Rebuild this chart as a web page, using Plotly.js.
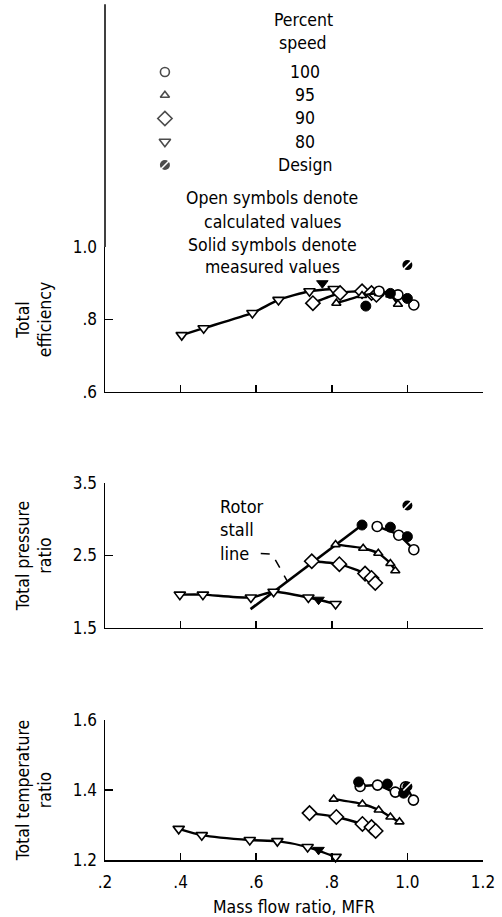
<!DOCTYPE html>
<html><head><meta charset="utf-8">
<script src="https://cdn.plot.ly/plotly-3.0.1.min.js"></script>
<style>html,body{margin:0;padding:0;background:#fff}#chart{width:502px;height:917px}</style>
</head><body><div id="chart"></div>
<script>
const FONT = 'DejaVu Sans Condensed, DejaVu Sans, sans-serif';

// ---- tick labels ----
const xTickVals = [0.2, 0.4, 0.6, 0.8, 1.0, 1.2];
const xTickText = ['.2', '.4', '.6', '.8', '1.0', '1.2'];
const effTickVals = [0.6, 0.8, 1.0];
const effTickText = ['.6', '.8', '1.0'];
const prTickVals = [1.5, 2.5, 3.5];
const prTickText = ['1.5', '2.5', '3.5'];
const tmpTickVals = [1.2, 1.4, 1.6];
const tmpTickText = ['1.2', '1.4', '1.6'];
const speedKeys = ['100', '95', '90', '80', 'Design'];

// ---- Total efficiency ----
const eff80X = [0.403, 0.461, 0.590, 0.659, 0.741, 0.805];
const eff80Y = [0.757, 0.776, 0.818, 0.854, 0.878, 0.884];
const eff80SolidX = [0.775];
const eff80SolidY = [0.900];
const eff90X = [0.750, 0.822, 0.880, 0.905, 0.918];
const eff90Y = [0.845, 0.873, 0.878, 0.873, 0.868];
const eff95X = [0.812, 0.880, 0.925, 0.955, 0.975];
const eff95Y = [0.845, 0.866, 0.872, 0.868, 0.842];
const eff100X = [0.925, 0.975, 1.017];
const eff100Y = [0.878, 0.868, 0.840];
const eff100SolidX = [0.890, 0.955, 1.000];
const eff100SolidY = [0.837, 0.872, 0.858];
const effDesignX = [1.0];
const effDesignY = [0.950];

// ---- Total pressure ratio ----
const pr80X = [0.398, 0.459, 0.586, 0.646, 0.738, 0.810];
const pr80Y = [1.96, 1.96, 1.92, 2.00, 1.92, 1.83];
const pr80SolidX = [0.765];
const pr80SolidY = [1.89];
const pr90X = [0.747, 0.820, 0.888, 0.905, 0.915];
const pr90Y = [2.42, 2.38, 2.25, 2.19, 2.12];
const pr95X = [0.810, 0.883, 0.923, 0.955, 0.968];
const pr95Y = [2.65, 2.60, 2.53, 2.39, 2.29];
const pr100X = [0.920, 0.977, 1.017];
const pr100Y = [2.90, 2.78, 2.58];
const pr100SolidX = [0.880, 0.955, 1.000];
const pr100SolidY = [2.92, 2.89, 2.76];
const prDesignX = [1.0];
const prDesignY = [3.19];
const stallX = [0.585, 0.880];
const stallY = [1.76, 2.92];

// ---- Total temperature ratio ----
const tmp80X = [0.395, 0.456, 0.583, 0.656, 0.736, 0.810];
const tmp80Y = [1.289, 1.271, 1.257, 1.254, 1.237, 1.209];
const tmp80SolidX = [0.765];
const tmp80SolidY = [1.229];
const tmp90X = [0.741, 0.812, 0.881, 0.905, 0.916];
const tmp90Y = [1.334, 1.323, 1.303, 1.294, 1.283];
const tmp95X = [0.805, 0.881, 0.924, 0.955, 0.979];
const tmp95Y = [1.374, 1.360, 1.343, 1.323, 1.309];
const tmp100X = [0.875, 0.921, 0.968, 0.995, 1.016];
const tmp100Y = [1.410, 1.414, 1.394, 1.409, 1.371];
const tmp100SolidX = [0.871, 0.947, 0.990];
const tmp100SolidY = [1.423, 1.417, 1.391];
const tmpDesignX = [1.0];
const tmpDesignY = [1.410];

// ---- trace builders ----
const LINE = {color: '#000', width: 2.4, shape: 'spline', smoothing: 0.6};
function openSeries(x, y, xa, ya, symbol, size, withLine) {
  return {type: 'scatter', mode: withLine ? 'lines+markers' : 'markers', x, y, xaxis: xa, yaxis: ya,
    line: LINE, marker: {symbol, size, color: '#fff', line: {color: '#000', width: 1.6}},
    hoverinfo: 'skip', showlegend: false, cliponaxis: false};
}
function solidSeries(x, y, xa, ya, symbol, size) {
  return {type: 'scatter', mode: 'markers', x, y, xaxis: xa, yaxis: ya,
    marker: {symbol, size, color: '#000', line: {color: '#000', width: 1}},
    hoverinfo: 'skip', showlegend: false, cliponaxis: false};
}
function designSeries(x, y, xa, ya) {
  return [
    {type: 'scatter', mode: 'markers', x, y, xaxis: xa, yaxis: ya,
      marker: {symbol: 'circle', size: 10, color: '#000'}, hoverinfo: 'skip', showlegend: false, cliponaxis: false},
    {type: 'scatter', mode: 'markers', x, y, xaxis: xa, yaxis: ya,
      marker: {symbol: 'line-ne', size: 8, line: {color: '#fff', width: 1.6}}, hoverinfo: 'skip', showlegend: false, cliponaxis: false}
  ];
}
function panel(xa, ya, d) {
  return [
    openSeries(d.x80, d.y80, xa, ya, 'triangle-down', 10, true),
    openSeries(d.x90, d.y90, xa, ya, 'diamond', 11, true),
    openSeries(d.x95, d.y95, xa, ya, 'triangle-up', 8, true),
    openSeries(d.x100, d.y100, xa, ya, 'circle', 10, true),
    solidSeries(d.s80x, d.s80y, xa, ya, 'triangle-down', 10),
    solidSeries(d.s100x, d.s100y, xa, ya, 'circle', 10),
    ...designSeries(d.dx, d.dy, xa, ya)
  ];
}

const traces = [
  {type: 'scatter', mode: 'lines', x: stallX, y: stallY, xaxis: 'x2', yaxis: 'y2',
    line: {color: '#000', width: 2.6}, hoverinfo: 'skip', showlegend: false},
  ...panel('x3', 'y3', {x80: eff80X, y80: eff80Y, x90: eff90X, y90: eff90Y, x95: eff95X, y95: eff95Y,
    x100: eff100X, y100: eff100Y, s80x: eff80SolidX, s80y: eff80SolidY, s100x: eff100SolidX, s100y: eff100SolidY,
    dx: effDesignX, dy: effDesignY}),
  ...panel('x2', 'y2', {x80: pr80X, y80: pr80Y, x90: pr90X, y90: pr90Y, x95: pr95X, y95: pr95Y,
    x100: pr100X, y100: pr100Y, s80x: pr80SolidX, s80y: pr80SolidY, s100x: pr100SolidX, s100y: pr100SolidY,
    dx: prDesignX, dy: prDesignY}),
  ...panel('x', 'y', {x80: tmp80X, y80: tmp80Y, x90: tmp90X, y90: tmp90Y, x95: tmp95X, y95: tmp95Y,
    x100: tmp100X, y100: tmp100Y, s80x: tmp80SolidX, s80y: tmp80SolidY, s100x: tmp100SolidX, s100y: tmp100SolidY,
    dx: tmpDesignX, dy: tmpDesignY}),
  // key symbols
  {type: 'scatter', mode: 'markers', x: speedKeys.map(() => 0.5), y: speedKeys.map((k, i) => i), xaxis: 'x4', yaxis: 'y4',
    marker: {symbol: ['circle', 'triangle-up', 'diamond', 'triangle-down', 'circle'], size: [9, 8, 11, 10, 10],
      color: ['#fff', '#fff', '#fff', '#fff', '#000'], line: {color: '#000', width: [1.6, 1.6, 1.6, 1.6, 0]}},
    hoverinfo: 'skip', showlegend: false, cliponaxis: false},
  {type: 'scatter', mode: 'markers', x: [0.5], y: [4], xaxis: 'x4', yaxis: 'y4',
    marker: {symbol: 'line-ne', size: 8, line: {color: '#fff', width: 1.6}}, hoverinfo: 'skip', showlegend: false, cliponaxis: false}
];

const tickFont = {family: FONT, size: 17, color: '#000'};
const titleFont = {family: FONT, size: 17.5, color: '#000'};
const baseX = {range: [0.2, 1.2], tickvals: xTickVals, ticktext: xTickText, ticks: 'inside', ticklen: 7,
  tickwidth: 1.5, tickcolor: '#000', showline: true, linecolor: '#000', linewidth: 1.5, showgrid: false,
  zeroline: false, tickfont: tickFont, fixedrange: true, ticklabelstandoff: 6};
const baseY = {ticks: 'inside', ticklen: 8, tickwidth: 1.5, tickcolor: '#000', showline: true, linecolor: '#000',
  linewidth: 1.5, showgrid: false, zeroline: false, tickfont: tickFont, fixedrange: true, ticklabelstandoff: 3};

const ann = (x, y, text, xref, yref, extra) => Object.assign({x, y, text, xref, yref, showarrow: false,
  font: {family: FONT, size: 17.5, color: '#000'}, xanchor: 'center', yanchor: 'middle'}, extra || {});

const annotations = [
  ann(0.524, 0.9767, 'Percent', 'paper', 'paper'),
  ann(0.524, 0.950, 'speed', 'paper', 'paper'),
  ...speedKeys.map((k, i) => ann(0.53, i, k, 'paper', 'y4')),
  ann(0.4418, 0.7698, 'Open symbols denote', 'paper', 'paper'),
  ann(0.4418, 0.7419, 'calculated values', 'paper', 'paper'),
  ann(0.4418, 0.7151, 'Solid symbols denote', 'paper', 'paper'),
  ann(0.4418, 0.6895, 'measured values', 'paper', 'paper'),
  ann(0.499, 2.847, 'Rotor<br>stall<br>line', 'x2', 'y2', {xanchor: 'left', align: 'left', font: {family: FONT, size: 18, color: '#000'}})
];

const layout = {
  width: 502, height: 917,
  margin: {l: 105, r: 19, t: 0, b: 57},
  paper_bgcolor: '#fff', plot_bgcolor: '#fff',
  showlegend: false,
  xaxis: Object.assign({}, baseX, {anchor: 'y', domain: [0, 1],
    title: {text: 'Mass flow ratio, MFR', font: titleFont, standoff: 10}}),
  xaxis2: Object.assign({}, baseX, {anchor: 'y2', matches: 'x', showticklabels: false}),
  xaxis3: Object.assign({}, baseX, {anchor: 'y3', matches: 'x', showticklabels: false}),
  xaxis4: {domain: [0.119, 0.198], range: [0, 1], visible: false, fixedrange: true, anchor: 'y4'},
  yaxis: Object.assign({}, baseY, {domain: [0, 0.1628], range: [1.2, 1.6], tickvals: tmpTickVals, ticktext: tmpTickText,
    title: {text: 'Total temperature<br>ratio', font: titleFont, standoff: 16}}),
  yaxis2: Object.assign({}, baseY, {domain: [0.2698, 0.4384], range: [1.5, 3.5], tickvals: prTickVals, ticktext: prTickText,
    anchor: 'x2', title: {text: 'Total pressure<br>ratio', font: titleFont, standoff: 16}}),
  yaxis3: Object.assign({}, baseY, {domain: [0.5442, 0.7128], range: [0.6, 1.0], tickvals: effTickVals, ticktext: effTickText,
    anchor: 'x3', title: {text: 'Total<br>efficiency', font: titleFont, standoff: 16}}),
  yaxis4: {domain: [0.7947, 0.9298], range: [4.5, -0.5], visible: false, fixedrange: true, anchor: 'x4'},
  annotations,
  shapes: [
    {type: 'path', xref: 'x2', yref: 'y2', path: 'M 0.612 2.527 L 0.642 2.52 L 0.683 2.14',
      line: {color: '#000', width: 1.5, dash: 'dash'}},
    {type: 'line', xref: 'paper', yref: 'paper', x0: 0, x1: 0, y0: 0.7128, y1: 0.995,
      line: {color: '#000', width: 1.5}}
  ]
};

Plotly.newPlot('chart', traces, layout, {displayModeBar: false, staticPlot: true});
</script>
</body></html>
